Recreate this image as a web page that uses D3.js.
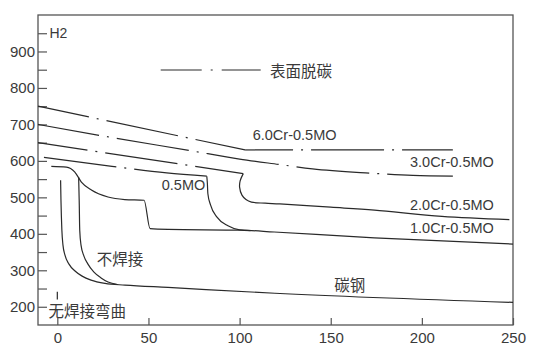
<!DOCTYPE html>
<html>
<head>
<meta charset="utf-8">
<script src="https://cdn.jsdelivr.net/npm/d3@7"></script>
<style>
  html, body { margin: 0; padding: 0; background: #fff; }
  svg { display: block; }
  .lbl { font-family: "Liberation Sans", Arial, sans-serif; fill: #3a3a3a; }
  .cjk { font-family: "Noto Sans CJK SC", sans-serif; fill: #3a3a3a; }
</style>
</head>
<body>
<svg id="chart" width="550" height="357"></svg>
<script>
// ---- data (x: temperature-like axis, y: H2) ----
const xTickValues = [0, 50, 100, 150, 200, 250];
const yTickValues = [200, 250, 300, 350, 400, 450, 500, 550, 600, 650, 700, 750, 800, 850, 900, 950];
const yLabelValues = [200, 300, 400, 500, 600, 700, 800, 900];

// surface decarburization (dash-dot) parts
const decarb6Cr = [[-10.6, 750], [103, 630], [217, 630]];
const decarb3Cr = [[-10.6, 700], [30, 664], [73, 628], [100, 605], [122, 590], [140, 578], [173, 566], [195, 560], [217, 558]];
const decarb2Cr = [[-10.6, 650], [102, 565]];
const decarb1Cr = [[-10.6, 612], [30, 585], [60, 567], [82, 558]];

// solid curves
const cr2Solid = [[102, 565], [100.3, 545], [100, 528], [101.3, 506], [103.5, 494], [106.5, 487], [114, 484], [122, 482], [150, 473], [174, 465], [211, 448], [248, 439]];
const cr1Solid = [[82, 558], [82.3, 540], [82.6, 510], [84, 480], [87.6, 446], [93.6, 422], [100, 411], [106, 409]];
const mo05 = [[-3.3, 585], [5, 583], [9.5, 570], [13.2, 542], [18.7, 520], [27.8, 501], [37, 494], [47.6, 492], [50.9, 414], [60.7, 412], [101, 410], [119, 405], [174, 389], [250, 372]];
const noWeld = [[11.7, 555], [12, 492], [12.3, 410], [13, 369], [14.6, 339], [16.8, 317], [20.1, 295], [24, 279], [27.8, 268], [33, 261]];
const carbon = [[1.8, 547], [2, 492], [2.5, 410], [3.1, 369], [4.2, 341.5], [6.4, 317], [9.7, 298], [13.6, 284], [18.5, 273], [26.2, 264], [37.1, 259.4], [60.7, 253], [119.4, 237], [250, 212]];
const bendMark = [[0, 241], [0, 220]];

const legendText = "表面脱碳";
const labels = [
  { t: "6.0Cr-0.5MO", x: 107.2, y: 658, cls: "lbl" },
  { t: "3.0Cr-0.5MO", x: 193.5, y: 582, cls: "lbl" },
  { t: "2.0Cr-0.5MO", x: 193.5, y: 466, cls: "lbl" },
  { t: "1.0Cr-0.5MO", x: 193.5, y: 402, cls: "lbl" },
  { t: "0.5MO", x: 57.3, y: 521, cls: "lbl" }
];
const cjkLabels = [
  { t: "不焊接", x: 21.6, y: 335 },
  { t: "碳钢", x: 152, y: 263 },
  { t: "无焊接弯曲", x: -4.9, y: 190 }
];

// ---- layout ----
const svg = d3.select("#chart");
const L = 38, R = 513, T = 15, B = 325;
const x = d3.scaleLinear().domain([-10.6, 250]).range([L, R]);
const y = d3.scaleLinear().domain([150, 1000]).range([B, T]);
const ink = "#2a2a2a";

// frame
svg.append("rect").attr("x", L).attr("y", T).attr("width", R - L).attr("height", B - T)
  .attr("fill", "none").attr("stroke", "#555").attr("stroke-width", 1.3);

// y axis
const yAxis = d3.axisLeft(y).tickValues(yTickValues).tickSize(-9).tickPadding(3)
  .tickFormat(d => yLabelValues.includes(d) ? d : "");
const gy = svg.append("g").attr("transform", `translate(${L},0)`).call(yAxis);
gy.select(".domain").remove();
gy.selectAll(".tick line").attr("stroke", "#555").attr("stroke-width", 1.2);
gy.selectAll(".tick text").attr("class", "lbl").style("font-size", "15px").attr("fill", "#3a3a3a");

// x axis
const xAxis = d3.axisBottom(x).tickValues(xTickValues).tickSize(-7).tickPadding(7);
const gx = svg.append("g").attr("transform", `translate(0,${B})`).call(xAxis);
gx.select(".domain").remove();
gx.selectAll(".tick line").attr("stroke", "#555").attr("stroke-width", 1.2);
gx.selectAll(".tick text").attr("class", "lbl").style("font-size", "15px").attr("fill", "#3a3a3a");

// H2 label
svg.append("text").attr("class", "lbl").attr("x", x(-4.3)).attr("y", y(950))
  .attr("dominant-baseline", "central").style("font-size", "14px").text("H2");

// line generators
const lin = d3.line().x(d => x(d[0])).y(d => y(d[1]));
const mono = d3.line().x(d => x(d[0])).y(d => y(d[1])).curve(d3.curveMonotoneX);
const cat = d3.line().x(d => x(d[0])).y(d => y(d[1])).curve(d3.curveCatmullRom.alpha(0.5));

function draw(gen, data, dash, offset) {
  const p = svg.append("path").attr("d", gen(data)).attr("fill", "none")
    .attr("stroke", ink).attr("stroke-width", 1.2);
  if (dash) p.attr("stroke-dasharray", dash).attr("stroke-dashoffset", offset || 0);
  return p;
}
const DD = "73,8,2,8";

// dash-dot (surface decarburization)
draw(lin, decarb6Cr.slice(0, 2), DD, 21);
draw(lin, decarb6Cr.slice(1), DD, 25);
draw(mono, decarb3Cr, DD, 11);
draw(lin, decarb2Cr, DD, 23);
draw(mono, decarb1Cr, DD, -6);

// solid curves
draw(cat, cr2Solid);
draw(mono, cr1Solid);
draw(mono, mo05);
draw(mono, noWeld);
draw(mono, carbon);
draw(lin, bendMark);

// legend
svg.append("path").attr("d", `M160.7,70H260.7`).attr("fill", "none").attr("stroke", ink)
  .attr("stroke-width", 1.2).attr("stroke-dasharray", "41,9,2,9,39");
svg.append("text").attr("class", "cjk").attr("x", 270).attr("y", 70)
  .attr("dominant-baseline", "central").style("font-size", "15.5px").text(legendText);

// labels
labels.forEach(l => {
  svg.append("text").attr("class", l.cls).attr("x", x(l.x)).attr("y", y(l.y))
    .style("font-size", "14.5px").text(l.t);
});
cjkLabels.forEach(l => {
  svg.append("text").attr("class", "cjk").attr("x", x(l.x)).attr("y", y(l.y))
    .attr("dominant-baseline", "central").style("font-size", "15.5px").text(l.t);
});
</script>
</body>
</html>
